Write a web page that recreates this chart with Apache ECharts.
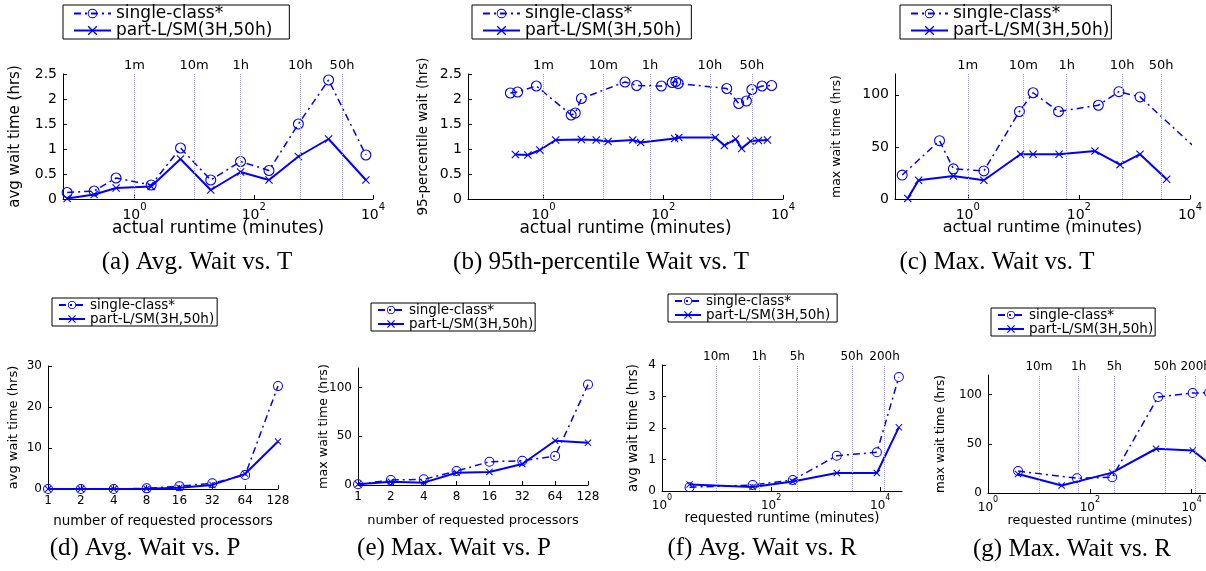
<!DOCTYPE html>
<html>
<head>
<meta charset="utf-8">
<title>wait time panels</title>
<script src="https://cdn.jsdelivr.net/npm/echarts@6.0.0/dist/echarts.min.js"></script>
<style>
  html, body { margin: 0; padding: 0; background: #fff; }
  #chart { width: 1206px; height: 571px; }
</style>
</head>
<body>
<div id="chart"></div>
<script>
const singleName = 'single-class*'
const partName = 'part-L/SM(3H,50h)'

// (a) avg wait (hrs) vs actual runtime (minutes)
const aRuntime = [0.074, 0.21, 0.49, 1.9, 5.9, 19, 60, 180, 560, 1800, 7600]
const aSingle = [0.13, 0.16, 0.42, 0.28, 1.02, 0.38, 0.75, 0.57, 1.5, 2.38, 0.88]
const aPart = [0.01, 0.09, 0.22, 0.25, 0.8, 0.18, 0.54, 0.38, 0.85, 1.2, 0.38]

// (b) 95-percentile wait (hrs) vs actual runtime
const bSingleRuntime = [0.28, 0.37, 0.76, 2.9, 3.4, 4.3, 23, 36, 93, 141, 162, 178, 1150, 1820, 2450, 3020, 4470, 6460]
const bSingle = [2.12, 2.14, 2.26, 1.68, 1.72, 2.01, 2.34, 2.27, 2.26, 2.33, 2.35, 2.31, 2.21, 1.91, 1.96, 2.19, 2.26, 2.27]
const bPartRuntime = [0.34, 0.55, 0.87, 1.6, 4.3, 7.6, 12, 31, 42, 155, 182, 741, 1050, 1620, 2040, 2880, 3890, 5500]
const bPart = [0.89, 0.88, 0.98, 1.18, 1.19, 1.18, 1.15, 1.18, 1.13, 1.21, 1.23, 1.23, 1.07, 1.2, 1.01, 1.16, 1.17, 1.18]

// (c) max wait (hrs) vs actual runtime
const cSingleRuntime = [0.066, 0.31, 0.55, 1.95, 8.5, 15, 43, 224, 525, 1260, 20000]
const cSingle = [23, 56, 29, 27, 84, 102, 84, 90, 103, 98, 39]
const cPartRuntime = [0.083, 0.13, 0.55, 1.95, 8.9, 15, 44, 195, 550, 1260, 3800]
const cPart = [0.6, 18, 22, 18, 43, 43, 43, 46, 33, 43, 19]

// (d), (e) vs number of requested processors
const procCategories = ['1', '2', '4', '8', '16', '32', '64', '128']
const dSingle = [0, 0, 0, 0.16, 0.7, 1.4, 3.4, 25.1]
const dPart = [0, 0, 0, 0.05, 0.3, 1.0, 3.7, 11.6]
const eSingle = [0.7, 5.1, 5.8, 14.3, 23.9, 24.9, 29.7, 103]
const ePart = [0.7, 3.4, 2.4, 12.6, 13.3, 21.5, 45.4, 43.3]

// (f), (g) vs requested runtime (minutes)
const fRuntime = [3.2, 46, 250, 1600, 8700, 22000]
const fSingle = [0.12, 0.19, 0.35, 1.12, 1.23, 3.62]
const fPart = [0.21, 0.13, 0.3, 0.57, 0.57, 2.02]
const gSingleRuntime = [3.9, 56, 275, 2200, 10500, 22000]
const gSingle = [22.3, 15, 16, 97.7, 101.7, 102]
const gPartRuntime = [3.9, 28, 275, 2000, 10500, 22000]
const gPart = [19.3, 7.7, 20.7, 45, 43.3, 30]

// reference lines (minutes) and their labels
const actualMarks = [1, 10, 60, 600, 3000]
const actualMarkLabels = ['1m', '10m', '1h', '10h', '50h']
const requestedMarks = [10, 60, 300, 3000, 12000]
const requestedMarkLabels = ['10m', '1h', '5h', '50h', '200h']

// tick labels
const logTickExps = [0, 2, 4]
const hoursTicks = [0, 50, 100]

const captions = [
  '(a) Avg. Wait vs. T',
  '(b) 95th-percentile Wait vs. T',
  '(c) Max. Wait vs. T',
  '(d) Avg. Wait vs. P',
  '(e) Max. Wait vs. P',
  '(f) Avg. Wait vs. R',
  '(g) Max. Wait vs. R',
]

const BLUE = '#0000ff'
const FONT = 'DejaVu Sans'
const RING = 'path://M0,10A10,10,0,1,1,20,10A10,10,0,1,1,0,10ZM2,10A8,8,0,1,0,18,10A8,8,0,1,0,2,10Z'
const CROSS = 'path://M0,1L1,0L5,4L9,0L10,1L6,5L10,9L9,10L5,6L1,10L0,9L4,5Z'

const pairs = (xs, ys) => xs.map((x, i) => [Math.log10(x), ys[i]])

// layout of the seven panels
const panels = [
  { grid: [63, 74, 310, 125], xMin: -1.2, xMax: 4, yMax: 2.5, yInt: 0.5, yName: 'avg wait time (hrs)', yNameSize: 15, yGap: 40,
    xName: 'actual runtime (minutes)', xNameSize: 17, xGap: 21, big: true, legend: [63, 5, 232], cap: [197, 262] },
  { grid: [468, 74, 315, 125], xMin: -1.26, xMax: 4, yMax: 2.5, yInt: 0.5, yName: '95-percentile wait (hrs)', yNameSize: 13.5, yGap: 38,
    xName: 'actual runtime (minutes)', xNameSize: 17, xGap: 21, big: true, legend: [472, 5, 225], cap: [601, 262] },
  { grid: [895, 74, 295, 125], xMin: -1.31, xMax: 4, yMax: 120, yName: 'max wait time (hrs)', yNameSize: 12.5, yGap: 52,
    xName: 'actual runtime (minutes)', xNameSize: 16, xGap: 21, big: true, legend: [900, 5, 215], cap: [997, 262] },
  { grid: [48, 366, 230, 123], yMax: 30, yInt: 10, yName: 'avg wait time (hrs)', yNameSize: 13, yGap: 28,
    xName: 'number of requested processors', xNameSize: 13.5, xGap: 25, big: false, legend: [52, 298, 170], cap: [145, 548] },
  { grid: [358, 368, 230, 117], yMax: 120, yName: 'max wait time (hrs)', yNameSize: 12.7, yGap: 28,
    xName: 'number of requested processors', xNameSize: 13, xGap: 29, big: false, legend: [371, 303, 164], cap: [454, 548] },
  { grid: [662, 365, 240, 126], xMin: 0, xMax: 4.4, yMax: 4, yInt: 1, yName: 'avg wait time (hrs)', yNameSize: 13.5, yGap: 22,
    xName: 'requested runtime (minutes)', xNameSize: 13.5, xGap: 20, big: false, legend: [668, 294, 174], cap: [762, 548] },
  { grid: [988, 375, 224, 118], xMin: 0, xMax: 4.4, yMax: 120, yName: 'max wait time (hrs)', yNameSize: 12, yGap: 41,
    xName: 'requested runtime (minutes)', xNameSize: 12.8, xGap: 21, big: false, legend: [991, 308, 165], cap: [1072, 549] },
]

const seriesData = [
  [pairs(aRuntime, aSingle), pairs(aRuntime, aPart)],
  [pairs(bSingleRuntime, bSingle), pairs(bPartRuntime, bPart)],
  [pairs(cSingleRuntime, cSingle), pairs(cPartRuntime, cPart)],
  [dSingle, dPart],
  [eSingle, ePart],
  [pairs(fRuntime, fSingle), pairs(fRuntime, fPart)],
  [pairs(gSingleRuntime, gSingle), pairs(gPartRuntime, gPart)],
]
const panelMarks = [
  [actualMarks, actualMarkLabels],
  [actualMarks, actualMarkLabels],
  [actualMarks, actualMarkLabels],
  null,
  null,
  [requestedMarks, requestedMarkLabels],
  [requestedMarks, requestedMarkLabels],
]

const chart = echarts.init(document.getElementById('chart'))

const grid = []
const xAxis = []
const yAxis = []
const series = []
const legend = []

panels.forEach((p, i) => {
  const tickSize = p.big ? 14 : 12
  const markSize = p.big ? 13 : 12
  const axisCommon = {
    gridIndex: i,
    axisLine: { show: true, onZero: false, lineStyle: { color: '#000', width: 1 } },
    axisTick: { show: true, inside: true, length: 4, lineStyle: { color: '#000' } },
    splitLine: { show: false },
    nameLocation: 'middle',
    nameMoveOverlap: false,
  }
  grid.push({ left: p.grid[0], top: p.grid[1], width: p.grid[2], height: p.grid[3], outerBoundsMode: 'none', containLabel: false })

  if (p.xMin === undefined) {
    xAxis.push(Object.assign({}, axisCommon, {
      type: 'category', data: procCategories, boundaryGap: false,
      axisLabel: { color: '#000', fontFamily: FONT, fontSize: tickSize, margin: 6 },
      name: p.xName, nameGap: p.xGap,
      nameTextStyle: { color: '#000', fontFamily: FONT, fontSize: p.xNameSize },
    }))
  } else {
    xAxis.push(Object.assign({}, axisCommon, {
      type: 'value', min: p.xMin, max: p.xMax,
      axisTick: { show: true, inside: true, length: 4, customValues: logTickExps, lineStyle: { color: '#000' } },
      axisLabel: {
        customValues: logTickExps, margin: 3,
        formatter: v => '{b|10}{s|' + Math.round(v) + '}',
        rich: {
          b: { color: '#000', fontFamily: FONT, fontSize: tickSize, lineHeight: tickSize + 6, verticalAlign: 'bottom' },
          s: { color: '#000', fontFamily: FONT, fontSize: tickSize - 4, lineHeight: tickSize + 6, verticalAlign: 'top' },
        },
      },
      name: p.xName, nameGap: p.xGap,
      nameTextStyle: { color: '#000', fontFamily: FONT, fontSize: p.xNameSize },
    }))
  }

  const yLabel = { color: '#000', fontFamily: FONT, fontSize: tickSize, margin: 6 }
  const yAx = Object.assign({}, axisCommon, {
    type: 'value', min: 0, max: p.yMax,
    axisLabel: yLabel,
    name: p.yName, nameGap: p.yGap,
    nameTextStyle: { color: '#000', fontFamily: FONT, fontSize: p.yNameSize },
  })
  if (p.yInt) {
    yAx.interval = p.yInt
  } else {
    yAx.axisLabel = Object.assign({}, yLabel, { customValues: hoursTicks })
    yAx.axisTick = { show: true, inside: true, length: 4, customValues: hoursTicks, lineStyle: { color: '#000' } }
  }
  yAxis.push(yAx)

  const [sData, pData] = seriesData[i]
  const single = {
    name: singleName, type: 'line', xAxisIndex: i, yAxisIndex: i, data: sData,
    symbol: RING, symbolSize: p.big ? 11 : 10,
    itemStyle: { color: BLUE },
    lineStyle: { color: BLUE, width: 1.5, type: [7, 4, 2, 4] },
    emphasis: { disabled: true }, animation: false, z: 3,
  }
  const marks = panelMarks[i]
  if (marks) {
    single.markLine = {
      silent: true, symbol: 'none', animation: false,
      lineStyle: { color: '#9a9af2', type: 'dotted', width: 1 },
      label: { position: 'end', distance: 2, color: '#000', fontFamily: FONT, fontSize: markSize, formatter: '{b}' },
      data: marks[0].map((m, k) => ({ xAxis: Math.log10(m), name: marks[1][k] })),
    }
  }
  series.push(single)
  series.push({
    name: partName, type: 'line', xAxisIndex: i, yAxisIndex: i, data: pData,
    symbol: CROSS, symbolSize: p.big ? 8 : 7,
    itemStyle: { color: BLUE },
    lineStyle: { color: BLUE, width: 2, type: 'solid' },
    emphasis: { disabled: true }, animation: false, z: 4,
  })

  const legendFont = p.big ? 17 : 13.5
  const iconW = p.big ? 37 : 26
  const textW = p.big ? 163 : 130
  const padL = p.big ? 10 : 6
  const padR = Math.max(2, p.legend[2] - padL - iconW - 5 - textW)
  legend.push({
    orient: 'vertical', left: p.legend[0], top: p.legend[1],
    data: [singleName, partName], selectedMode: false,
    backgroundColor: '#fff', borderColor: '#000', borderWidth: 1,
    padding: [0, padR, 0, padL],
    itemWidth: iconW, itemHeight: p.big ? 12 : 10, itemGap: 0,
    textStyle: { color: '#000', fontFamily: FONT, fontSize: legendFont },
  })
})

const graphic = panels.map((p, i) => ({
  type: 'text', x: p.cap[0], y: p.cap[1], silent: true,
  style: {
    text: captions[i], fill: '#000', font: '25px "Liberation Serif"',
    align: 'center', verticalAlign: 'middle', textAlign: 'center', textVerticalAlign: 'middle',
  },
}))

chart.setOption({
  animation: false,
  backgroundColor: '#fff',
  grid, xAxis, yAxis, series, legend, graphic,
})
</script>
</body>
</html>
